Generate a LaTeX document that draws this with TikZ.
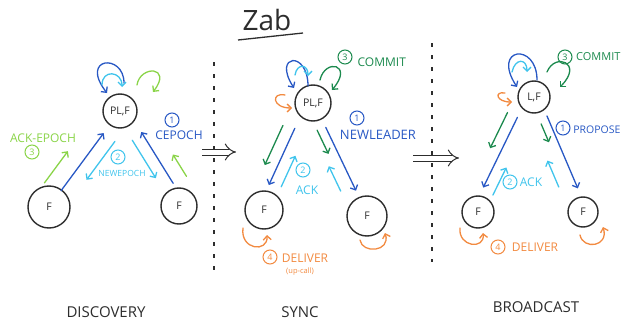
\documentclass[tikz,border=0pt]{standalone}
\usepackage{fontspec}
\setmainfont{Open Sans}
\definecolor{ink}{RGB}{45,45,45}
\definecolor{zblue}{RGB}{40,88,196}
\definecolor{zcyan}{RGB}{64,196,236}
\definecolor{zgreen}{RGB}{28,138,78}
\definecolor{zlime}{RGB}{138,212,72}
\definecolor{zorange}{RGB}{242,138,64}
\usetikzlibrary{arrows.meta, calc}
\tikzstyle{proc}=[circle, draw=ink, line width=1.4pt, inner sep=0pt, font=\fontsize{10.5}{10.5}\selectfont, text=ink]
\tikzstyle{num}=[circle, draw, line width=1pt, inner sep=0pt, minimum size=14pt, font=\fontsize{9}{9}\selectfont]
\tikzstyle{lbl}=[inner sep=0pt, font=\fontsize{12}{12}\selectfont]
\tikzstyle{phaselbl}=[inner sep=0pt, font=\fontsize{15}{15}\selectfont, text=ink]
\tikzstyle{msg}=[-{Straight Barb[length=4pt,width=8pt]}, line width=1.3pt, line cap=round]
\tikzstyle{sep}=[draw=ink, line width=1.2pt, dash pattern=on 4pt off 8pt]
\tikzstyle{imp}=[draw=ink, line width=1pt, double distance=5pt, -{Implies}]
\newcommand{\msgarrow}[7]{\draw[msg, #1] ($(#2)!#4!(#3)!#7pt!#6:(#3)$) -- ($(#2)!#5!(#3)!#7pt!#6:(#3)$);}

\begin{document}
\begin{tikzpicture}[very thick, x=1pt, y=-1pt]
        \useasboundingbox (0,0) rectangle (622,324);
        \node[font=\fontsize{28}{28}\selectfont, text=ink, inner sep=0pt] (title) at (267,20) {Zab};
        \draw[ink, line width=1.3pt] ($(title)+(-29,20)$) -- ($(title)+(36,13)$);
        % discovery
        \node[proc, minimum size=34pt] (dl) at (120,111) {PL,F};
        \node[proc, minimum size=42pt] (df1) at (49,207) {F};
        \node[proc, minimum size=36pt] (df2) at (179,206) {F};
        \draw[msg, zblue] ($(dl)+(4,-28)$) .. controls +(0,-30) and +(-28,-36) .. ($(dl)+(-13,-18)$);
        \draw[msg, zcyan] ($(dl)+(-18,-26)$) .. controls +(0,-16) and +(0,-16) .. ($(dl)+(2,-24)$);
        \draw[msg, zlime] ($(dl)+(17,-26)$) .. controls +(3,-20) and +(20,-26) .. ($(dl)+(33,-19)$);
        \msgarrow{zblue}{df1}{dl}{.17}{.77}{90}{0}
        \msgarrow{zlime}{df1}{dl}{.14}{.47}{90}{18}
        \msgarrow{zblue}{df2}{dl}{.2}{.74}{-90}{7}
        \msgarrow{zlime}{df2}{dl}{.19}{.42}{-90}{22}
        \msgarrow{zcyan}{dl}{df1}{.23}{.63}{90}{14}
        \msgarrow{zcyan}{dl}{df2}{.28}{.68}{-90}{5}
        \node[num, zlime] (dn3) at (32,152) {3};
        \node[lbl, text=zlime] (ackepoch) at (43,138) {ACK-EPOCH};
        \node[num, zblue] (dn1) at (172,120) {1};
        \node[lbl, text=zblue] (cepoch) at (179,135) {CEPOCH};
        \node[num, zcyan] (dn2) at (118,157) {2};
        \node[lbl, text=zcyan, font=\fontsize{8.5}{8.5}\selectfont] (newepoch) at (122,173) {NEWEPOCH};
        \node[phaselbl] (discovery) at (106,312) {DISCOVERY};
        \coordinate (sep1a) at (214,62);
        \coordinate (sep1b) at (214,270);
        \draw[sep] (sep1a) -- (sep1b);
        \coordinate (imp1a) at (202,152);
        \coordinate (imp1b) at (236,152);
        \draw[imp] (imp1a) -- (imp1b);
        % sync
        \node[proc, minimum size=36pt] (sl) at (313,103) {PL,F};
        \node[proc, minimum size=38pt] (sf1) at (264,210) {F};
        \node[proc, minimum size=40pt] (sf2) at (367,216) {F};
        \draw[msg, zblue] ($(sl)+(-5,-17)$) .. controls +(0,-36) and +(-22,-34) .. ($(sl)+(-19,-15)$);
        \draw[msg, zcyan] ($(sl)+(-18,-28)$) .. controls +(2,-12) and +(0,-12) .. ($(sl)+(-5,-27)$);
        \draw[msg, zgreen] ($(sl)+(7,-23)$) .. controls +(5,-22) and +(22,-26) .. ($(sl)+(19,-13)$);
        \draw[msg, zorange] ($(sl)+(-28,-8)$) .. controls +(-14,-3) and +(-20,0) .. ($(sl)+(-21,5)$);
        \msgarrow{zgreen}{sl}{sf1}{.28}{.65}{-90}{18}
        \msgarrow{zblue}{sl}{sf1}{.26}{.79}{-90}{6}
        \msgarrow{zcyan}{sf1}{sl}{.24}{.53}{-90}{6}
        \msgarrow{zgreen}{sl}{sf2}{.21}{.42}{-90}{8}
        \msgarrow{zblue}{sl}{sf2}{.22}{.78}{90}{1}
        \msgarrow{zcyan}{sf2}{sl}{.27}{.49}{90}{13}
        \draw[msg, zorange] ($(sf1)+(-21,18)$) .. controls +(-3,22) and +(1,18) .. ($(sf1)+(3,25)$);
        \draw[msg, zorange] ($(sf2)+(-7,24)$) .. controls +(2,14) and +(6,19) .. ($(sf2)+(18,17)$);
        \node[num, zgreen] (sn3) at (345,57) {3};
        \node[lbl, text=zgreen, anchor=west] (scommit) at (357,62) {COMMIT};
        \node[num, zblue] (sn1) at (357,118) {1};
        \node[lbl, text=zblue, font=\fontsize{13}{13}\selectfont] (newleader) at (378,135) {NEWLEADER};
        \node[num, zcyan] (sn2) at (303,170) {2};
        \node[lbl, text=zcyan] (sack) at (307,190) {ACK};
        \node[num, zorange] (sn4) at (270,257) {4};
        \node[lbl, text=zorange] (sdeliver) at (305,258) {DELIVER};
        \node[lbl, text=zorange, font=\fontsize{7.5}{7.5}\selectfont] (upcall) at (300,272) {(up-call)};
        \node[phaselbl] (sync) at (300,312) {SYNC};
        \coordinate (sep2a) at (432,43);
        \coordinate (sep2b) at (432,262);
        \draw[sep] (sep2a) -- (sep2b);
        \coordinate (imp2a) at (413,158);
        \coordinate (imp2b) at (459,158);
        \draw[imp] (imp2a) -- (imp2b);
        % broadcast
        \node[proc, minimum size=32pt] (bl) at (534,97) {L,F};
        \node[proc, minimum size=32pt] (bf1) at (478,212) {F};
        \node[proc, minimum size=30pt] (bf2) at (583,212) {F};
        \draw[msg, zblue] ($(bl)+(3,-17)$) .. controls +(0,-38) and +(-26,-40) .. ($(bl)+(-17,-10)$);
        \draw[msg, zcyan] ($(bl)+(-22,-25)$) .. controls +(3,-14) and +(0,-14) .. ($(bl)+(-7,-25)$);
        \draw[msg, zgreen] ($(bl)+(13,-25)$) .. controls +(8,-20) and +(24,-24) .. ($(bl)+(26,-10)$);
        \draw[msg, zorange] ($(bl)+(-29,-4)$) .. controls +(-11,-2) and +(-16,0) .. ($(bl)+(-22,5)$);
        \msgarrow{zgreen}{bl}{bf1}{.2}{.51}{-90}{17}
        \msgarrow{zblue}{bl}{bf1}{.2}{.81}{-90}{6}
        \msgarrow{zcyan}{bf1}{bl}{.17}{.41}{-90}{6}
        \msgarrow{zgreen}{bl}{bf2}{.22}{.38}{-90}{4}
        \msgarrow{zblue}{bl}{bf2}{.18}{.81}{90}{4.5}
        \msgarrow{zcyan}{bf2}{bl}{.26}{.49}{90}{12.5}
        \draw[msg, zorange] ($(bf1)+(-18,16)$) .. controls +(-2,19) and +(2,17) .. ($(bf1)+(5,21)$);
        \draw[msg, zorange] ($(bf2)+(-3,23)$) .. controls +(3,15) and +(6,20) .. ($(bf2)+(20,15)$);
        \node[num, zgreen] (bn3) at (565,57) {3};
        \node[lbl, text=zgreen, anchor=east, font=\fontsize{11}{11}\selectfont] (bcommit) at (621,57) {COMMIT};
        \node[num, zblue] (bn1) at (563,128) {1};
        \node[lbl, text=zblue, anchor=east, font=\fontsize{10.5}{10.5}\selectfont] (propose) at (621,130) {PROPOSE};
        \node[num, zcyan] (bn2) at (510,182) {2};
        \node[lbl, text=zcyan] (back) at (531,182) {ACK};
        \node[num, zorange] (bn4) at (498,247) {4};
        \node[lbl, text=zorange] (bdeliver) at (535,247) {DELIVER};
        \node[phaselbl] (broadcast) at (536,307) {BROADCAST};
    \end{tikzpicture}
\end{document}
